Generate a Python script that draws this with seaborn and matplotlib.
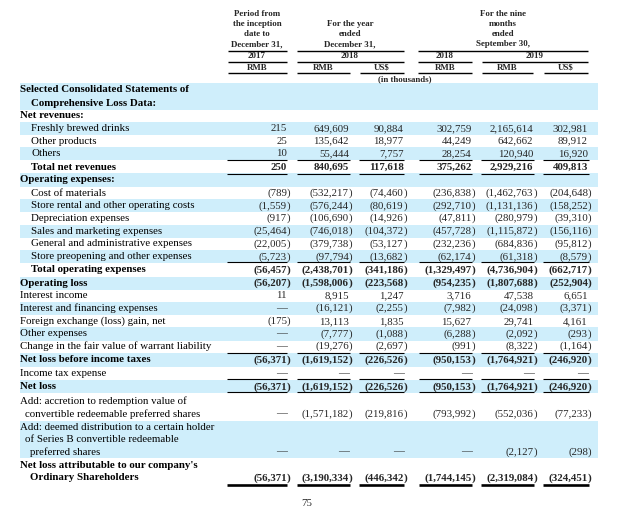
import matplotlib
matplotlib.use("Agg")
import matplotlib.pyplot as plt
import seaborn as sns

sns.set_style("white")
plt.rcParams["font.family"] = ["Liberation Serif", "DejaVu Serif"]

# ---------------- data ----------------
row_labels = [
    ["Selected Consolidated Statements of", "Comprehensive Loss Data:"],
    ["Net revenues:"],
    ["Freshly brewed drinks"],
    ["Other products"],
    ["Others"],
    ["Total net revenues"],
    ["Operating expenses:"],
    ["Cost of materials"],
    ["Store rental and other operating costs"],
    ["Depreciation expenses"],
    ["Sales and marketing expenses"],
    ["General and administrative expenses"],
    ["Store preopening and other expenses"],
    ["Total operating expenses"],
    ["Operating loss"],
    ["Interest income"],
    ["Interest and financing expenses"],
    ["Foreign exchange (loss) gain, net"],
    ["Other expenses"],
    ["Change in the fair value of warrant liability"],
    ["Net loss before income taxes"],
    ["Income tax expense"],
    ["Net loss"],
    ["Add: accretion to redemption value of", "convertible redeemable preferred shares"],
    ["Add: deemed distribution to a certain holder", "of Series B convertible redeemable", "preferred shares"],
    ["Net loss attributable to our company's", "Ordinary Shareholders"],
]
bold_rows = [0, 1, 5, 6, 13, 14, 20, 22, 25]
value_rows = [2, 3, 4, 5, 7, 8, 9, 10, 11, 12, 13, 14, 15, 16, 17, 18, 19, 20, 21, 22, 23, 24, 25]

D = None  # shown as an em dash
rmb_2017 = [215, 25, 10, 250, -789, -1559, -917, -25464, -22005, -5723, -56457, -56207,
            11, D, -175, D, D, -56371, D, -56371, D, D, -56371]
rmb_2018 = [649609, 135642, 55444, 840695, -532217, -576244, -106690, -746018, -379738,
            -97794, -2438701, -1598006, 8915, -16121, 13113, -7777, -19276, -1619152, D,
            -1619152, -1571182, D, -3190334]
usd_2018 = [90884, 18977, 7757, 117618, -74460, -80619, -14926, -104372, -53127, -13682,
            -341186, -223568, 1247, -2255, 1835, -1088, -2697, -226526, D, -226526,
            -219816, D, -446342]
rmb_9m2018 = [302759, 44249, 28254, 375262, -236838, -292710, -47811, -457728, -232236,
              -62174, -1329497, -954235, 3716, -7982, 15627, -6288, -991, -950153, D,
              -950153, -793992, D, -1744145]
rmb_9m2019 = [2165614, 642662, 120940, 2929216, -1462763, -1131136, -280979, -1115872,
              -684836, -61318, -4736904, -1807688, 47538, -24098, 29741, -2092, -8322,
              -1764921, D, -1764921, -552036, -2127, -2319084]
usd_9m2019 = [302981, 89912, 16920, 409813, -204648, -158252, -39310, -156116, -95812,
              -8579, -662717, -252904, 6651, -3371, 4161, -293, -1164, -246920, D,
              -246920, -77233, -298, -324451]
columns = [rmb_2017, rmb_2018, usd_2018, rmb_9m2018, rmb_9m2019, usd_9m2019]

period_titles = [["Period from", "the inception", "date to", "December 31,"],
                 ["For the year", "ended", "December 31,"],
                 ["For the nine", "months", "ended", "September 30,"]]
year_labels = ["2017", "2018", "2018", "2019"]
currency_labels = ["RMB", "RMB", "US$", "RMB", "RMB", "US$"]
unit_note = "(in thousands)"
page_number = "75"

# ---------------- layout ----------------
line_y = [[90, 103], [115.5], [128.3], [141], [153.6], [167], [180], [193], [205.7],
          [218.3], [231.3], [243.7], [256.7], [270], [283.3], [296], [308.4], [321.6],
          [334], [346.4], [360], [373.3], [386.7], [401, 414], [427.7, 439.6, 451.7],
          [466, 478]]
indents = {0: [20, 31], 2: [31], 3: [31], 4: [31], 5: [31], 7: [31], 8: [31], 9: [31],
           10: [31], 11: [31], 12: [31], 13: [31], 23: [20, 25], 24: [20, 25, 30],
           25: [20, 30]}
col_right = [287, 349, 403.5, 471.5, 533.5, 588]
col_span = [(227, 287), (297, 350), (359, 404), (419, 472), (481, 534), (543, 589)]
shade = "#cfeefb"
fs = 7.8
hfs = 6.4

fig = plt.figure(figsize=(6.23, 5.08), dpi=100)
ax = fig.add_axes([0, 0, 1, 1])
ax.set_xlim(0, 623)
ax.set_ylim(508, 0)
ax.axis("off")

# shaded bands (alternate rows)
for i, ys in enumerate(line_y):
    if i % 2 == 0:
        ax.axhspan(ys[0] - 6.6, ys[-1] + 6.6, xmin=20 / 623, xmax=598 / 623,
                   color=shade, lw=0, zorder=0)

# labels
for i, lines in enumerate(row_labels):
    xs = indents.get(i, [20] * len(lines))
    for k, txt in enumerate(lines):
        ax.text(xs[k], line_y[i][k], txt, fontsize=fs, ha="left", va="center",
                fontweight="bold" if i in bold_rows else "normal", color="black")

# values
def fmt(v):
    if v is None:
        return "\u2014", ""
    s = f"{abs(v):,}"
    return ("(" + s, ")") if v < 0 else (s, "")

for j, col in enumerate(columns):
    for k, r in enumerate(value_rows):
        main, tail = fmt(col[k])
        y = line_y[r][-1]
        w = "bold" if r in bold_rows else "normal"
        ax.text(col_right[j], y, main, fontsize=fs, ha="right", va="center", fontweight=w)
        if tail:
            ax.text(col_right[j], y, tail, fontsize=fs, ha="left", va="center", fontweight=w)

# underlines in the body
for y, lw in [(159.5, 0.8), (173.8, 0.8), (262, 0.8), (352.6, 0.8), (379, 0.8),
              (392.3, 0.8), (484.8, 1.9)]:
    for a, b in col_span:
        ax.plot([a, b], [y, y], color="black", lw=lw, solid_capstyle="butt")

# header
hkw = dict(fontsize=hfs, fontweight="bold", ha="center", va="center")
for x, lines in zip([257, 350, 503], period_titles):
    start = 14.5 if len(lines) == 4 else 24.5
    for k, t in enumerate(lines):
        ax.text(x, start + 10 * k, t, **hkw)
for x, t in zip([257, 350, 445, 535], year_labels):
    ax.text(x, 56.5, t, **hkw)
for x, t in zip([257, 323, 382, 445, 507, 566], currency_labels):
    ax.text(x, 67.5, t, **hkw)
ax.text(405, 79, unit_note, **hkw)

for y, segs in [(51, [(228, 287), (297, 404), (418, 588)]),
                (62, [(228, 287), (297, 404), (418, 472), (482, 588)]),
                (73, [(228, 287), (297, 350), (360, 404), (418, 472), (482, 533), (544, 588)])]:
    for a, b in segs:
        ax.plot([a, b], [y, y], color="black", lw=1.0, solid_capstyle="butt")

ax.text(307, 503, page_number, fontsize=fs, ha="center", va="center")

fig.savefig("out.png", dpi=100, facecolor="white")
